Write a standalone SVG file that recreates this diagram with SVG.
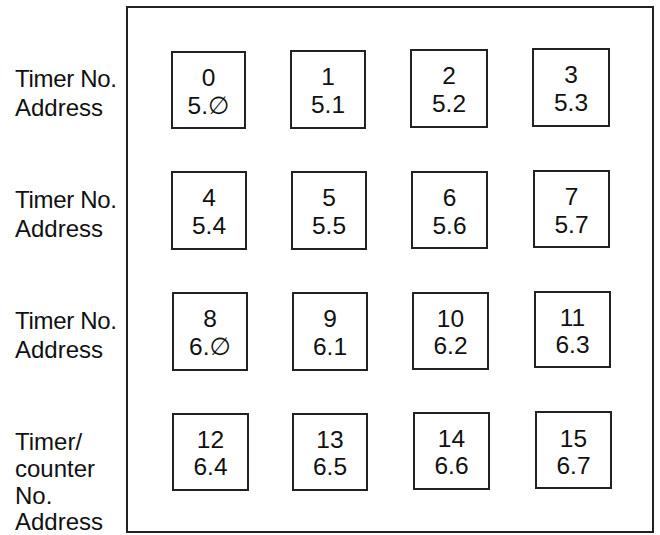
<svg xmlns="http://www.w3.org/2000/svg" width="660" height="535" viewBox="0 0 660 535">
<style>
text{font-family:"Liberation Sans","DejaVu Sans",sans-serif;font-size:24px;fill:#111}
.b rect{fill:none;stroke:#222;stroke-width:2}
.b text{text-anchor:middle;font-size:24.5px}
</style>
<rect width="660" height="535" fill="#fff"/>
<rect x="127" y="7" width="526" height="525" fill="none" stroke="#222" stroke-width="2"/>
<g id="labels">
<text x="15" y="87" textLength="102">Timer No.</text><text x="15" y="116">Address</text>
<text x="15" y="208" textLength="102">Timer No.</text><text x="15" y="237">Address</text>
<text x="15" y="329" textLength="102">Timer No.</text><text x="15" y="358">Address</text>
<text x="15" y="450">Timer/</text><text x="15" y="477">counter</text><text x="15" y="504">No.</text><text x="15" y="530">Address</text>
</g>
<g id="n0" class="b"><rect x="172" y="52" width="73" height="76"/><text x="208.5" y="86">0</text><text x="208.5" y="114">5.∅</text></g>
<g id="n1" class="b"><rect x="291" y="51" width="74" height="77"/><text x="328" y="85">1</text><text x="328" y="113">5.1</text></g>
<g id="n2" class="b"><rect x="411" y="50" width="76" height="77"/><text x="449" y="84">2</text><text x="449" y="112">5.2</text></g>
<g id="n3" class="b"><rect x="533" y="49" width="76" height="77"/><text x="571" y="83">3</text><text x="571" y="111">5.3</text></g>
<g id="n4" class="b"><rect x="172" y="172" width="74" height="77"/><text x="209" y="206">4</text><text x="209" y="234">5.4</text></g>
<g id="n5" class="b"><rect x="292" y="172" width="74" height="77"/><text x="329" y="206">5</text><text x="329" y="234">5.5</text></g>
<g id="n6" class="b"><rect x="412" y="172" width="75" height="76"/><text x="449.5" y="206">6</text><text x="449.5" y="234">5.6</text></g>
<g id="n7" class="b"><rect x="534" y="171" width="75" height="76"/><text x="571.5" y="205">7</text><text x="571.5" y="233">5.7</text></g>
<g id="n8" class="b"><rect x="173" y="293" width="74" height="77"/><text x="210" y="327">8</text><text x="210" y="355">6.∅</text></g>
<g id="n9" class="b"><rect x="293" y="293" width="74" height="77"/><text x="330" y="327">9</text><text x="330" y="355">6.1</text></g>
<g id="n10" class="b"><rect x="413" y="293" width="75" height="76"/><text x="450.5" y="327">10</text><text x="450.5" y="354">6.2</text></g>
<g id="n11" class="b"><rect x="535" y="292" width="75" height="75"/><text x="572.5" y="326">11</text><text x="572.5" y="353">6.3</text></g>
<g id="n12" class="b"><rect x="173" y="414" width="75" height="76"/><text x="210.5" y="448">12</text><text x="210.5" y="475">6.4</text></g>
<g id="n13" class="b"><rect x="293" y="414" width="74" height="76"/><text x="330" y="448">13</text><text x="330" y="475">6.5</text></g>
<g id="n14" class="b"><rect x="414" y="413" width="75" height="76"/><text x="451.5" y="447">14</text><text x="451.5" y="474">6.6</text></g>
<g id="n15" class="b"><rect x="536" y="412" width="75" height="76"/><text x="573.5" y="447">15</text><text x="573.5" y="474">6.7</text></g>
<g id="connectors"/>
</svg>
